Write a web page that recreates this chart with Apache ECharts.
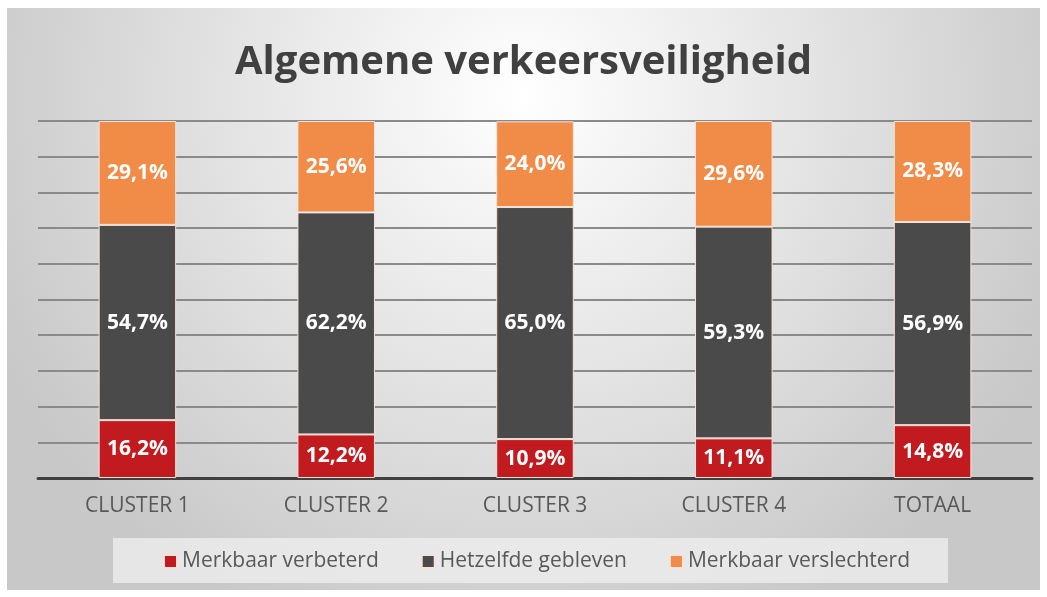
<!DOCTYPE html>
<html>
<head>
<meta charset="utf-8">
<script src="https://cdn.jsdelivr.net/npm/echarts@6/dist/echarts.min.js"></script>
<style>
  html, body { margin: 0; padding: 0; background: #fff; }
  #chart { width: 1047px; height: 597px; }
</style>
</head>
<body>
<div id="chart"></div>
<script>
var categories = ['CLUSTER 1', 'CLUSTER 2', 'CLUSTER 3', 'CLUSTER 4', 'TOTAAL'];
var verbeterd = [16.2, 12.2, 10.9, 11.1, 14.8];
var gebleven = [54.7, 62.2, 65.0, 59.3, 56.9];
var verslechterd = [29.1, 25.6, 24.0, 29.6, 28.3];

var myChart = echarts.init(document.getElementById('chart'));

function pct(p) {
  return p.value.toFixed(1).replace('.', ',') + '%';
}

var labelStyle = {
  show: true,
  position: 'inside',
  color: '#fff',
  fontFamily: 'Open Sans',
  fontWeight: 'bold',
  fontSize: 21,
  formatter: pct
};

function barSeries(name, data, color) {
  return {
    name: name,
    type: 'bar',
    stack: 'total',
    data: data,
    barWidth: '39%',
    itemStyle: { color: color, borderColor: '#f6e3d8', borderWidth: 1 },
    label: labelStyle
  };
}

var option = {
  animation: false,
  graphic: [
    {
      type: 'rect',
      z: -10,
      shape: { x: 7, y: 8, width: 1033, height: 582 },
      style: {
        fill: new echarts.graphic.RadialGradient(0.5, 0.15, 1.0, [
          { offset: 0, color: '#ffffff' },
          { offset: 0.35, color: '#ececec' },
          { offset: 1, color: '#c8c8c8' }
        ])
      }
    },
    {
      type: 'rect',
      z: -5,
      shape: { x: 113, y: 538, width: 835, height: 45 },
      style: { fill: 'rgba(238,238,238,0.8)' }
    }
  ],
  title: {
    text: 'Algemene verkeersveiligheid',
    left: 'center',
    top: 38,
    textStyle: {
      fontFamily: 'Open Sans',
      fontWeight: 'bold',
      fontSize: 40,
      color: '#404040'
    }
  },
  legend: {
    bottom: 20,
    left: 158,
    icon: 'rect',
    itemWidth: 13,
    itemHeight: 13,
    itemGap: 42,
    textStyle: { fontFamily: 'Open Sans', fontSize: 21, color: '#595959' },
    data: ['Merkbaar verbeterd', 'Hetzelfde gebleven', 'Merkbaar verslechterd']
  },
  grid: { left: 38, right: 15, top: 121, bottom: 119 },
  xAxis: {
    type: 'category',
    data: categories,
    axisTick: { show: false },
    axisLine: { lineStyle: { color: '#404040', width: 3 } },
    axisLabel: { fontFamily: 'Open Sans', fontSize: 21, color: '#595959', margin: 18 }
  },
  yAxis: {
    type: 'value',
    min: 0,
    max: 100,
    interval: 10,
    axisLabel: { show: false },
    axisLine: { show: false },
    splitLine: { lineStyle: { color: '#8a8a8a', width: 2 } }
  },
  series: [
    barSeries('Merkbaar verbeterd', verbeterd, '#c21b1f'),
    barSeries('Hetzelfde gebleven', gebleven, '#4a4a4a'),
    barSeries('Merkbaar verslechterd', verslechterd, '#f08b48')
  ]
};

myChart.setOption(option);
</script>
</body>
</html>
